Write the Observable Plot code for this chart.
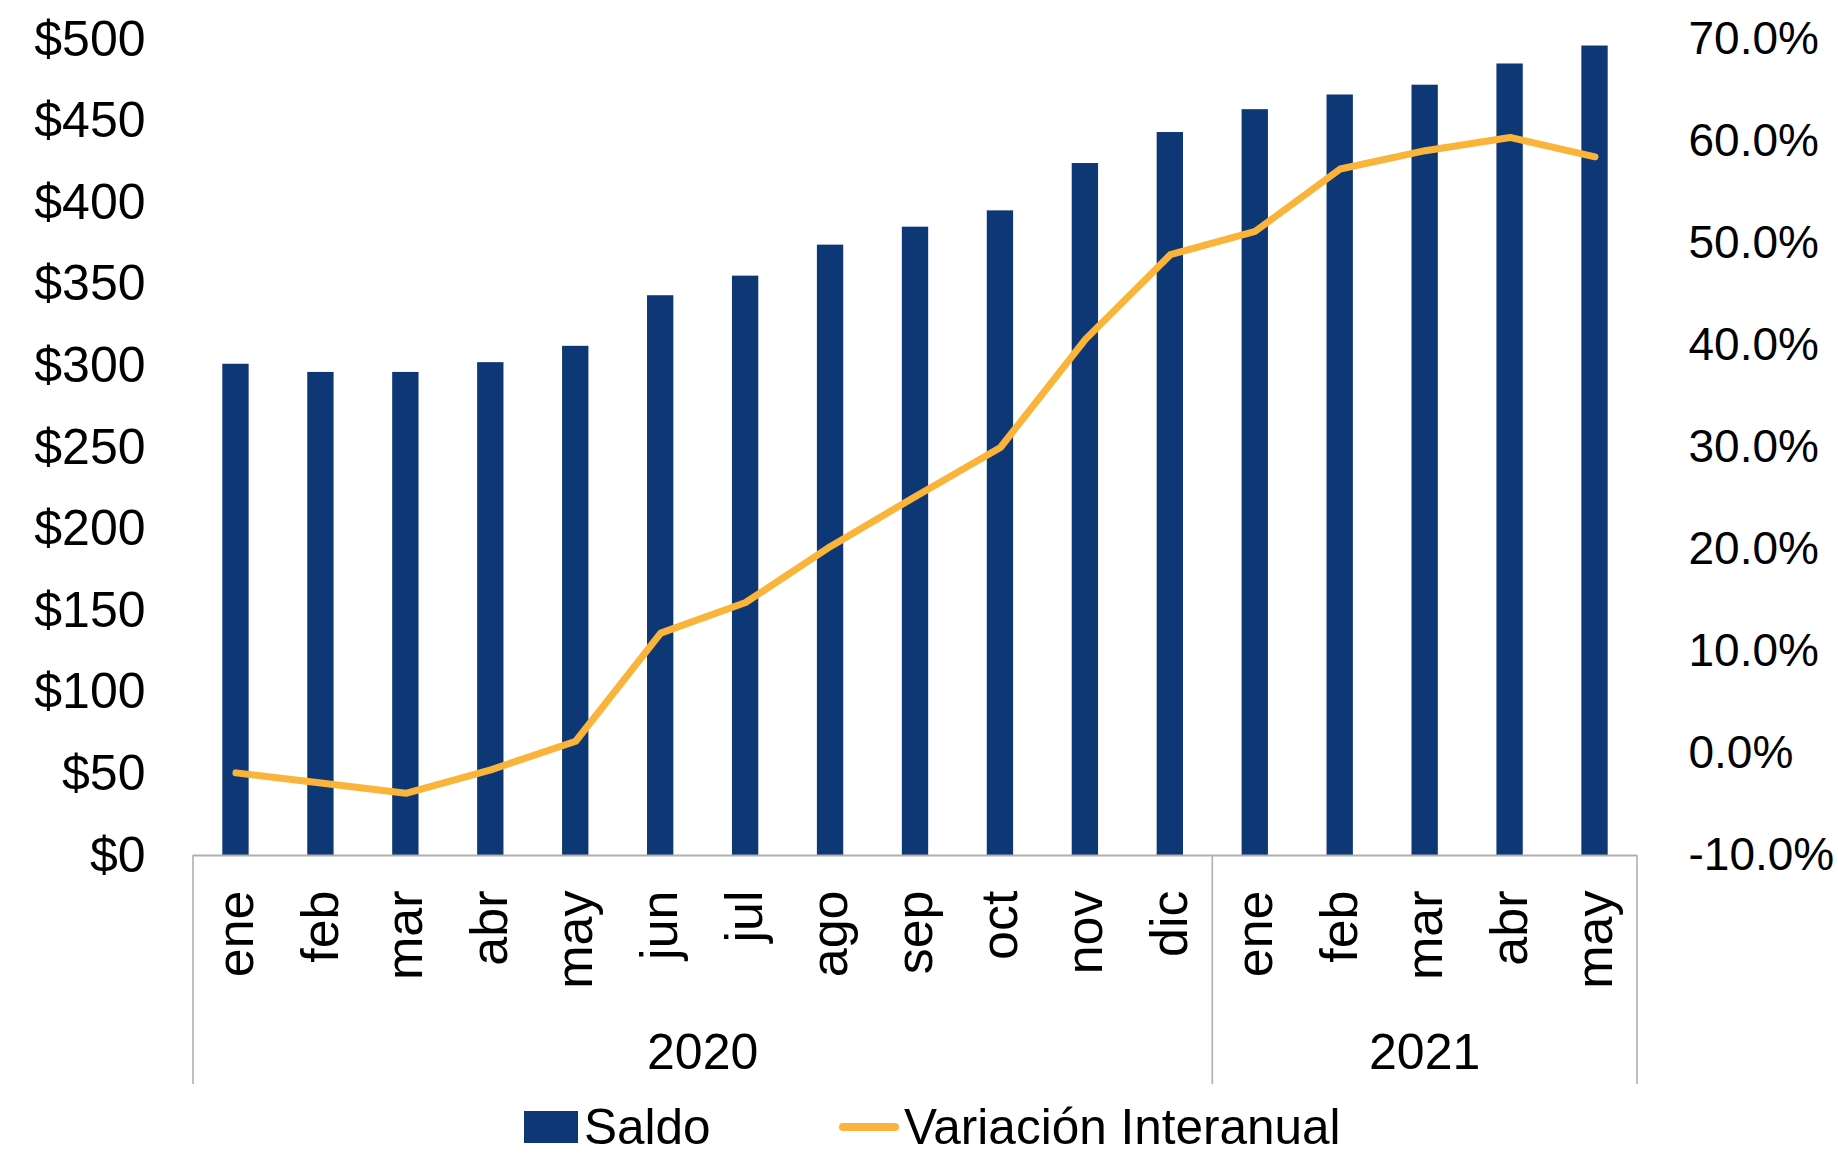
<!DOCTYPE html>
<html>
<head>
<meta charset="utf-8">
<script src="https://cdn.jsdelivr.net/npm/d3@7"></script>
<script src="https://cdn.jsdelivr.net/npm/@observablehq/plot@0.6"></script>
<style>
  html, body { margin: 0; padding: 0; background: #fff; overflow: hidden; }
  body { width: 1838px; font-family: "Liberation Sans", Arial, sans-serif; color: #000; }
  #legend { position: relative; width: 1838px; height: 53px; font-size: 49.5px; }
  #legend .sw { position: absolute; }
  #legend .lbl { position: absolute; top: 0; line-height: 53px; white-space: nowrap; }
</style>
</head>
<body>
<div id="chart"></div>
<div id="legend">
  <div class="sw" style="left:524px; top:11px; width:54px; height:32px; background:#0e3875;"></div>
  <div class="lbl" style="left:584px;">Saldo</div>
  <div class="sw" style="left:839px; top:23px; width:60px; height:8px; border-radius:4px; background:#fbb43a;"></div>
  <div class="lbl" style="left:904px;">Variación Interanual</div>
</div>
<script>
// ---- data ----
const months = ["ene","feb","mar","abr","may","jun","jul","ago","sep","oct","nov","dic","ene","feb","mar","abr","may"];
const years  = [2020,2020,2020,2020,2020,2020,2020,2020,2020,2020,2020,2020,2021,2021,2021,2021,2021];
const saldo  = [301, 296, 296, 302, 312, 343, 355, 374, 385, 395, 424, 443, 457, 466, 472, 485, 496];
const variacion = [-1.9, -2.9, -3.9, -1.6, 1.2, 11.8, 14.8, 20.3, 25.2, 30.0, 40.6, 48.9, 51.2, 57.3, 59.1, 60.4, 58.5];
const saldoTicks = [0, 50, 100, 150, 200, 250, 300, 350, 400, 450, 500];
const pctTicks = [-10, 0, 10, 20, 30, 40, 50, 60, 70];
const yearList = [2020, 2021];

// ---- build table ----
const keys = months.map((m, i) => `${years[i]}-${m}`);
const data = months.map((m, i) => ({key: keys[i], month: m, year: years[i], saldo: saldo[i], variacion: variacion[i]}));

// secondary (percent) axis mapped onto the primary y scale
const P0 = pctTicks[0], P1 = pctTicks[pctTicks.length - 1];
const Y0 = saldoTicks[0], Y1 = saldoTicks[saldoTicks.length - 1];
const toY = p => Y0 + (p - P0) / (P1 - P0) * (Y1 - Y0);
const fromY = v => P0 + (v - Y0) / (Y1 - Y0) * (P1 - P0);

const PAD_INNER = 0.69;
const W = 1838, H = 1100;
const navy = "#0e3875", orange = "#fbb43a", gridGray = "#b0b0b0";

function yearGroups(index, scales, values, dimensions) {
  const x = scales.x;
  const step = x(keys[1]) - x(keys[0]);
  const bottomFrame = dimensions.height - dimensions.marginBottom;
  const sepBottom = bottomFrame + 229;
  const g = d3.create("svg:g");
  const edges = [];
  yearList.forEach(yr => {
    const idx = keys.map((k, i) => i).filter(i => years[i] === yr);
    const i0 = idx[0], i1 = idx[idx.length - 1];
    const left = x(keys[i0]) - step * PAD_INNER / 2;
    const right = x(keys[i1]) + step - step * PAD_INNER / 2;
    edges.push(left, right);
    g.append("text")
      .attr("x", (left + right) / 2)
      .attr("y", bottomFrame + 201)
      .attr("text-anchor", "middle")
      .attr("dominant-baseline", "middle")
      .attr("font-size", 50)
      .attr("fill", "#000")
      .text(String(yr));
  });
  Array.from(new Set(edges.map(e => Math.round(e * 10) / 10))).forEach(e => {
    g.append("line")
      .attr("x1", e).attr("x2", e)
      .attr("y1", bottomFrame).attr("y2", sepBottom)
      .attr("stroke", gridGray).attr("stroke-width", 1.6);
  });
  return g.node();
}

const chart = Plot.plot({
  width: W,
  height: H,
  marginLeft: 193,
  marginRight: 201,
  marginTop: 39,
  marginBottom: 245,
  style: {fontFamily: "'Liberation Sans', Arial, sans-serif", fontSize: "48px", background: "#fff", color: "#000"},
  x: {type: "band", domain: keys, paddingInner: PAD_INNER, paddingOuter: PAD_INNER / 2, align: 0.5, round: false, axis: null},
  y: {domain: [Y0, Y1], axis: null, label: null},
  marks: [
    Plot.barY(data, {x: "key", y: "saldo", fill: navy}),
    Plot.ruleY([0], {stroke: gridGray, strokeWidth: 2.2}),
    Plot.line(data, {x: "key", y: d => toY(d.variacion), stroke: orange, strokeWidth: 7, strokeLinecap: "round", strokeLinejoin: "round"}),
    Plot.axisY({anchor: "left", ticks: saldoTicks, tickFormat: d => "$" + d, tickSize: 0, tickPadding: 48, label: null, fontSize: 50}),
    Plot.axisY({anchor: "right", ticks: pctTicks.map(toY), tickFormat: v => (Math.round(fromY(v) * 10) / 10).toFixed(1) + "%", tickSize: 0, tickPadding: 51, label: null, fontSize: 46}),
    Plot.text(data, {x: "key", text: "month", frameAnchor: "bottom", rotate: -90, textAnchor: "end", lineAnchor: "middle", dy: 35, fontSize: 52, fill: "#000"}),
    yearGroups
  ]
});
document.getElementById("chart").appendChild(chart);
</script>
</body>
</html>
